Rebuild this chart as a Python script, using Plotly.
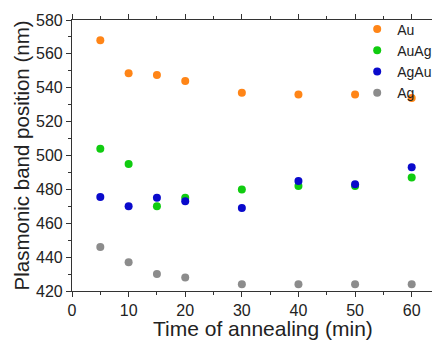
import plotly.graph_objects as go

time = [5, 10, 15, 20, 30, 40, 50, 60]
au = [568, 548.5, 547.5, 544, 537, 536, 536, 534]
auag = [504, 495, 470, 475, 480, 482, 482, 487]
agau = [475.5, 470, 475, 473, 469, 485, 483, 493]
ag = [446, 437, 430, 428, 424, 424, 424, 424]

names = ["Au", "AuAg", "AgAu", "Ag"]
colors = ["#FF8517", "#10CC10", "#0A0ACC", "#8C8C8C"]
series = [au, auag, agau, ag]

x_title = "Time of annealing (min)"
y_title = "Plasmonic band position (nm)"

fig = go.Figure()
for n, c, s in zip(names, colors, series):
    fig.add_trace(go.Scatter(x=time, y=s, mode="markers", name=n,
                             marker=dict(color=c, size=8)))

axis_common = dict(showgrid=False, zeroline=False, showline=True, linecolor="#333",
                   linewidth=1.2, ticks="outside", tickcolor="#333", ticklen=5,
                   automargin=False,
                   tickfont=dict(size=16, color="#222"))

# page body has an 8px margin, so the figure is sized/margined to compensate
fig.update_layout(
    width=432, height=335,
    margin=dict(l=64, r=0, t=12, b=52),
    paper_bgcolor="white", plot_bgcolor="white",
    font=dict(family="Liberation Sans, Arial, sans-serif", color="#222"),
    xaxis=dict(range=[0, 65], tickvals=[0, 10, 20, 30, 40, 50, 60], mirror="ticks",
               **axis_common),
    yaxis=dict(range=[420, 580], tickvals=[420, 440, 460, 480, 500, 520, 540, 560, 580],
               **axis_common),
    legend=dict(x=0.775, y=1.024, xanchor="left", yanchor="top", font=dict(size=14),
                bgcolor="rgba(0,0,0,0)", itemwidth=30, tracegroupgap=0),
    showlegend=True,
    annotations=[
        dict(text=x_title, xref="paper", yref="paper", x=0.52, y=-0.14,
             xanchor="center", yanchor="middle", showarrow=False,
             font=dict(size=21, color="#222")),
        dict(text=y_title, xref="paper", yref="paper", x=-0.136, y=0.5,
             xanchor="center", yanchor="middle", showarrow=False, textangle=-90,
             font=dict(size=20.5, color="#222")),
    ],
)
fig.update_xaxes(minor=dict(ticks="outside", ticklen=3, tickcolor="#333",
                            tickvals=[5, 15, 25, 35, 45, 55, 65]))
fig.update_yaxes(minor=dict(ticks="outside", ticklen=3, tickcolor="#333",
                            tickvals=[430, 450, 470, 490, 510, 530, 550, 570]))

fig.write_html("out.html")
